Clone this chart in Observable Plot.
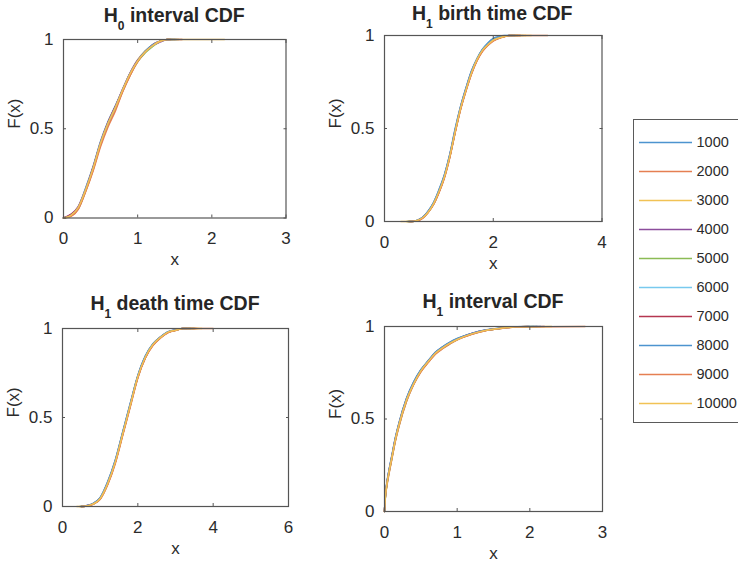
<!DOCTYPE html>
<html>
<head>
<meta charset="utf-8">
<script src="https://cdn.jsdelivr.net/npm/d3@7"></script>
<script src="https://cdn.jsdelivr.net/npm/@observablehq/plot@0.6"></script>
<style>
  html, body { margin: 0; padding: 0; background: #fff; }
  #fig { position: relative; width: 738px; height: 568px; overflow: hidden; background: #fff;
         font-family: "Liberation Sans", Arial, Helvetica, sans-serif; color: #262626; }
  .title { position: absolute; font-weight: bold; font-size: 19.5px; line-height: 19.5px; white-space: nowrap;
           transform: translateX(-50%); }
  .title sub { font-size: 12px; line-height: 0; vertical-align: -8px; }
  #legend { position: absolute; box-sizing: border-box; border: 1px solid #5a5a5a; background: #fff; }
</style>
</head>
<body>
<div id="fig"></div>
<script>
// Sample sizes (one curve per size) and their line colours
const sampleSizes = ["1000", "2000", "3000", "4000", "5000", "6000", "7000", "8000", "9000", "10000"];
const sizeColors = ["#4d94cf", "#e57f52", "#f1c255", "#8c4d9c", "#8bbb55", "#78c9ee", "#b53650", "#4d94cf", "#e57f52", "#f1c255"];

const yTicks = [0, 0.5, 1];

// H0 interval CDF
const h0IntervalX = [0, 0.1, 0.2, 0.3, 0.4, 0.5, 0.6, 0.7, 0.8, 0.9, 1.0, 1.1, 1.2, 1.3, 1.4];
const h0IntervalF = [
  [0, 0.015, 0.06, 0.17, 0.29, 0.43, 0.54, 0.63, 0.72, 0.81, 0.88, 0.93, 0.97, 0.99, 1],
  [0, 0.01, 0.05, 0.15, 0.27, 0.41, 0.52, 0.61, 0.71, 0.80, 0.88, 0.93, 0.965, 0.99, 1],
  [0, 0.015, 0.06, 0.16, 0.28, 0.42, 0.53, 0.62, 0.72, 0.81, 0.885, 0.935, 0.965, 0.99, 1],
  [0, 0.02, 0.065, 0.165, 0.285, 0.425, 0.535, 0.625, 0.725, 0.815, 0.885, 0.93, 0.965, 0.985, 1],
  [0, 0.015, 0.055, 0.155, 0.275, 0.415, 0.525, 0.615, 0.715, 0.805, 0.875, 0.925, 0.96, 0.99, 1],
  [0, 0.015, 0.06, 0.165, 0.28, 0.42, 0.53, 0.62, 0.72, 0.81, 0.88, 0.93, 0.965, 0.99, 1],
  [0, 0.02, 0.06, 0.16, 0.285, 0.42, 0.535, 0.625, 0.72, 0.81, 0.88, 0.93, 0.97, 0.99, 1],
  [0, 0.015, 0.055, 0.16, 0.28, 0.42, 0.53, 0.62, 0.72, 0.81, 0.88, 0.935, 0.97, 0.99, 1],
  [0, 0.01, 0.05, 0.15, 0.265, 0.40, 0.51, 0.60, 0.71, 0.80, 0.875, 0.93, 0.965, 0.99, 1],
  [0, 0.015, 0.06, 0.16, 0.28, 0.42, 0.53, 0.62, 0.72, 0.81, 0.88, 0.93, 0.965, 0.99, 1]
];
const h0IntervalMax = [1.45, 1.42, 1.5, 1.44, 1.55, 1.47, 1.6, 1.52, 1.45, 2.17];
const h0IntervalTicks = [0, 1, 2, 3];

// H1 birth time CDF
const h1BirthX = [0.5, 0.6, 0.7, 0.8, 0.9, 1.0, 1.1, 1.2, 1.3, 1.4, 1.5, 1.6, 1.7, 1.8, 1.9, 2.0, 2.1, 2.2, 2.3];
const h1BirthF = [
  [0, 0.005, 0.02, 0.055, 0.1, 0.17, 0.25, 0.36, 0.5, 0.62, 0.72, 0.81, 0.875, 0.925, 0.96, 0.985, 0.995, 1, 1],
  [0, 0.004, 0.018, 0.05, 0.09, 0.155, 0.235, 0.345, 0.48, 0.605, 0.705, 0.795, 0.865, 0.915, 0.948, 0.972, 0.985, 0.994, 1],
  [0, 0.005, 0.02, 0.05, 0.095, 0.16, 0.24, 0.35, 0.485, 0.61, 0.71, 0.80, 0.87, 0.92, 0.95, 0.975, 0.987, 0.995, 1],
  [0, 0.006, 0.022, 0.052, 0.098, 0.162, 0.245, 0.355, 0.49, 0.615, 0.715, 0.805, 0.87, 0.92, 0.952, 0.976, 0.988, 0.996, 1],
  [0, 0.005, 0.019, 0.048, 0.092, 0.158, 0.238, 0.348, 0.482, 0.607, 0.708, 0.798, 0.868, 0.918, 0.95, 0.974, 0.986, 0.995, 1],
  [0, 0.005, 0.021, 0.051, 0.097, 0.163, 0.243, 0.353, 0.488, 0.612, 0.712, 0.802, 0.872, 0.922, 0.953, 0.977, 0.989, 0.996, 1],
  [0, 0.004, 0.02, 0.05, 0.094, 0.159, 0.239, 0.349, 0.484, 0.608, 0.709, 0.799, 0.869, 0.919, 0.949, 0.974, 0.986, 0.994, 1],
  [0, 0.006, 0.022, 0.054, 0.1, 0.166, 0.248, 0.358, 0.494, 0.618, 0.718, 0.808, 0.875, 0.925, 0.957, 0.98, 0.992, 0.998, 1],
  [0, 0.004, 0.017, 0.047, 0.09, 0.153, 0.232, 0.342, 0.478, 0.603, 0.703, 0.793, 0.863, 0.913, 0.946, 0.97, 0.984, 0.993, 1],
  [0, 0.005, 0.02, 0.05, 0.095, 0.16, 0.24, 0.35, 0.485, 0.61, 0.71, 0.80, 0.87, 0.92, 0.95, 0.975, 0.987, 0.995, 1]
];
const h1BirthMin = [0.45, 0.47, 0.4, 0.46, 0.42, 0.48, 0.44, 0.43, 0.46, 0.3];
const h1BirthMax = [2.4, 2.5, 2.6, 2.35, 2.45, 2.55, 2.5, 2.4, 3.0, 2.7];
const h1BirthTicks = [0, 2, 4];

// H1 death time CDF
const h1DeathX = [0.6, 0.8, 1.0, 1.2, 1.4, 1.6, 1.8, 2.0, 2.2, 2.4, 2.6, 2.8, 3.0, 3.2];
const h1DeathF = [
  [0.003, 0.016, 0.05, 0.14, 0.26, 0.42, 0.58, 0.735, 0.845, 0.91, 0.95, 0.978, 0.99, 1],
  [0.002, 0.012, 0.042, 0.125, 0.245, 0.405, 0.565, 0.725, 0.835, 0.905, 0.948, 0.978, 0.99, 1],
  [0.002, 0.013, 0.045, 0.13, 0.25, 0.41, 0.57, 0.73, 0.84, 0.91, 0.95, 0.98, 0.99, 1],
  [0.003, 0.015, 0.048, 0.135, 0.255, 0.415, 0.575, 0.732, 0.842, 0.912, 0.952, 0.981, 0.992, 1],
  [0.002, 0.012, 0.043, 0.128, 0.248, 0.408, 0.568, 0.728, 0.838, 0.908, 0.949, 0.979, 0.99, 1],
  [0.002, 0.014, 0.046, 0.132, 0.252, 0.412, 0.572, 0.731, 0.841, 0.911, 0.951, 0.98, 0.991, 1],
  [0.002, 0.013, 0.044, 0.129, 0.249, 0.409, 0.569, 0.729, 0.839, 0.909, 0.95, 0.979, 0.99, 1],
  [0.003, 0.015, 0.049, 0.136, 0.258, 0.418, 0.578, 0.736, 0.846, 0.914, 0.953, 0.982, 0.992, 1],
  [0.001, 0.011, 0.04, 0.122, 0.24, 0.4, 0.56, 0.722, 0.834, 0.904, 0.946, 0.976, 0.989, 1],
  [0.002, 0.013, 0.045, 0.13, 0.25, 0.41, 0.57, 0.73, 0.84, 0.91, 0.95, 0.98, 0.99, 1]
];
const h1DeathMin = [0.5, 0.55, 0.45, 0.5, 0.48, 0.52, 0.5, 0.47, 0.5, 0.38];
const h1DeathMax = [3.5, 3.4, 3.6, 3.3, 3.5, 3.45, 3.55, 3.4, 4.0, 3.7];
const h1DeathTicks = [0, 2, 4, 6];

// H1 interval CDF
const h1IntervalX = [0, 0.01, 0.03, 0.06, 0.1, 0.15, 0.2, 0.3, 0.4, 0.5, 0.6, 0.7, 0.8, 0.9, 1.0, 1.2, 1.4, 1.6, 1.8];
const h1IntervalF = [
  [0, 0.08, 0.15, 0.22, 0.3, 0.4, 0.48, 0.61, 0.7, 0.765, 0.815, 0.86, 0.89, 0.915, 0.935, 0.963, 0.982, 0.992, 0.999],
  [0, 0.07, 0.13, 0.2, 0.28, 0.38, 0.46, 0.59, 0.685, 0.755, 0.805, 0.85, 0.88, 0.905, 0.928, 0.958, 0.978, 0.989, 0.997],
  [0, 0.07, 0.14, 0.21, 0.29, 0.39, 0.47, 0.6, 0.69, 0.76, 0.81, 0.855, 0.885, 0.91, 0.93, 0.96, 0.98, 0.99, 0.998],
  [0, 0.075, 0.145, 0.215, 0.295, 0.395, 0.475, 0.605, 0.695, 0.762, 0.812, 0.858, 0.888, 0.912, 0.932, 0.962, 0.981, 0.991, 0.998],
  [0, 0.065, 0.135, 0.205, 0.285, 0.385, 0.465, 0.595, 0.688, 0.758, 0.808, 0.853, 0.883, 0.908, 0.929, 0.959, 0.979, 0.99, 0.998],
  [0, 0.07, 0.14, 0.21, 0.29, 0.39, 0.47, 0.6, 0.69, 0.76, 0.81, 0.855, 0.885, 0.91, 0.93, 0.96, 0.98, 0.99, 0.998],
  [0, 0.072, 0.142, 0.212, 0.292, 0.392, 0.472, 0.602, 0.692, 0.762, 0.81, 0.856, 0.886, 0.911, 0.931, 0.961, 0.98, 0.99, 0.998],
  [0, 0.078, 0.148, 0.218, 0.298, 0.398, 0.478, 0.608, 0.698, 0.766, 0.814, 0.86, 0.89, 0.914, 0.934, 0.962, 0.981, 0.991, 0.999],
  [0, 0.068, 0.138, 0.205, 0.285, 0.385, 0.465, 0.595, 0.685, 0.755, 0.805, 0.852, 0.882, 0.907, 0.928, 0.958, 0.978, 0.989, 0.997],
  [0, 0.07, 0.14, 0.21, 0.29, 0.39, 0.47, 0.6, 0.69, 0.76, 0.81, 0.855, 0.885, 0.91, 0.93, 0.96, 0.98, 0.99, 0.998]
];
const h1IntervalMax = [2.0, 2.1, 1.95, 2.2, 2.05, 2.1, 1.98, 2.15, 2.76, 2.3];
const h1IntervalTicks = [0, 1, 2, 3];

const fig = document.getElementById("fig");
const axisColor = "#555";
const textColor = "#2b2b2b";
const fontFamily = '"Liberation Sans", Arial, Helvetica, sans-serif';

// Long-format rows: one point per (sample size, x)
function cdfRows(xs, F, mins, maxs) {
  const rows = [];
  sampleSizes.forEach((size, i) => {
    if (mins) rows.push({size, x: mins[i], F: 0});
    xs.forEach((x, j) => rows.push({size, x, F: F[i][j]}));
    rows.push({size, x: maxs[i], F: 1});
  });
  return rows;
}

function panel({title, sub, rows, xDomain, xTicks, left, top, right, bottom, titleGap}) {
  const mL = 70, mR = 14, mT = 14, mB = 64;
  const fw = right - left, fh = bottom - top;
  const fmt = (d) => String(d);
  const svg = Plot.plot({
    width: fw + mL + mR,
    height: fh + mT + mB,
    marginLeft: mL, marginRight: mR, marginTop: mT, marginBottom: mB,
    style: {background: "transparent", fontFamily, fontSize: "17px", color: textColor, overflow: "visible"},
    x: {domain: xDomain},
    y: {domain: [0, 1]},
    color: {domain: sampleSizes, range: sizeColors},
    marks: [
      Plot.line(rows, {x: "x", y: "F", z: "size", stroke: "size", strokeWidth: 1.5, curve: "monotone-x"}),
      Plot.frame({stroke: axisColor, strokeWidth: 1.2}),
      // inward tick marks on all four sides
      Plot.axisX(xTicks, {anchor: "bottom", tickSize: 3, dy: -3, fill: "none", stroke: axisColor, label: null}),
      Plot.axisX(xTicks, {anchor: "top", tickSize: 3, dy: 3, fill: "none", stroke: axisColor, label: null}),
      Plot.axisY(yTicks, {anchor: "left", tickSize: 3, dx: 3, fill: "none", stroke: axisColor, label: null}),
      Plot.axisY(yTicks, {anchor: "right", tickSize: 3, dx: -3, fill: "none", stroke: axisColor, label: null}),
      // tick labels
      Plot.axisX(xTicks, {anchor: "bottom", tickSize: 0, tickPadding: 14, tickFormat: fmt, label: null, fill: textColor}),
      Plot.axisY(yTicks, {anchor: "left", tickSize: 0, tickPadding: 10, tickFormat: fmt, label: null, fill: textColor}),
      // axis titles
      Plot.text(["x"], {frameAnchor: "bottom", dy: 47, fill: textColor}),
      Plot.text(["F(x)"], {frameAnchor: "left", dx: -49, rotate: -90, fill: textColor})
    ]
  });
  svg.style.position = "absolute";
  svg.style.left = (left - mL) + "px";
  svg.style.top = (top - mT) + "px";
  svg.style.maxWidth = "none";
  fig.appendChild(svg);

  const t = document.createElement("div");
  t.className = "title";
  t.innerHTML = `H<sub>${sub}</sub> ${title}`;
  t.style.left = ((left + right) / 2) + "px";
  t.style.top = (top - titleGap - 16.5) + "px";
  fig.appendChild(t);
}

panel({title: "interval CDF", sub: "0", rows: cdfRows(h0IntervalX, h0IntervalF, null, h0IntervalMax),
  xDomain: [0, 3], xTicks: h0IntervalTicks, left: 63, top: 38.5, right: 285.5, bottom: 217, titleGap: 16.5});
panel({title: "birth time CDF", sub: "1", rows: cdfRows(h1BirthX, h1BirthF, h1BirthMin, h1BirthMax),
  xDomain: [0, 4], xTicks: h1BirthTicks, left: 383.5, top: 35, right: 601, bottom: 221, titleGap: 15});
panel({title: "death time CDF", sub: "1", rows: cdfRows(h1DeathX, h1DeathF, h1DeathMin, h1DeathMax),
  xDomain: [0, 6], xTicks: h1DeathTicks, left: 62, top: 328, right: 288, bottom: 506, titleGap: 18});
panel({title: "interval CDF", sub: "1", rows: cdfRows(h1IntervalX, h1IntervalF, null, h1IntervalMax),
  xDomain: [0, 3], xTicks: h1IntervalTicks, left: 384, top: 326, right: 602, bottom: 511, titleGap: 17.5});

// Legend: a short line and label per sample size
const legendBox = document.createElement("div");
legendBox.id = "legend";
legendBox.style.left = "632.5px";
legendBox.style.top = "119px";
legendBox.style.width = "120px";
legendBox.style.height = "304px";
fig.appendChild(legendBox);

const legend = Plot.plot({
  width: 118, height: 302,
  marginLeft: 5, marginRight: 60, marginTop: 18, marginBottom: 16,
  style: {background: "transparent", fontFamily, fontSize: "14.5px", color: textColor, overflow: "visible"},
  y: {type: "point", domain: sampleSizes, padding: 0, axis: null},
  color: {domain: sampleSizes, range: sizeColors},
  marks: [
    Plot.ruleY(sampleSizes, {y: (d) => d, stroke: (d) => d, strokeWidth: 1.6}),
    Plot.text(sampleSizes, {y: (d) => d, text: (d) => d, frameAnchor: "right", dx: 4, textAnchor: "start", fill: textColor})
  ]
});
legend.style.maxWidth = "none";
legend.style.display = "block";
legendBox.appendChild(legend);
</script>
</body>
</html>
